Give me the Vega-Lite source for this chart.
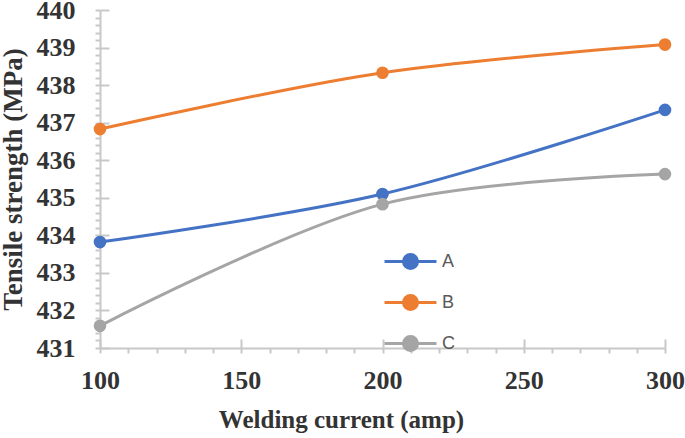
{
  "$schema": "https://vega.github.io/schema/vega-lite/v6.json",
  "width": 565,
  "height": 338,
  "autosize": {"type": "none"},
  "padding": {"left": 100, "top": 10, "right": 20, "bottom": 90},
  "background": "white",
  "config": {"view": {"stroke": null}},
  "data": {
    "values": [
      {"current": 100, "strength": 433.82, "series": "A"},
      {"current": 200, "strength": 435.1, "series": "A"},
      {"current": 300, "strength": 437.34, "series": "A"},
      {"current": 100, "strength": 436.83, "series": "B"},
      {"current": 200, "strength": 438.33, "series": "B"},
      {"current": 300, "strength": 439.08, "series": "B"},
      {"current": 100, "strength": 431.59, "series": "C"},
      {"current": 200, "strength": 434.83, "series": "C"},
      {"current": 300, "strength": 435.63, "series": "C"}
    ]
  },
  "resolve": {"axis": {"x": "independent", "y": "independent"}},
  "layer": [
    {
      "mark": {"type": "line", "interpolate": "catmull-rom", "strokeWidth": 3},
      "encoding": {
        "x": {
          "field": "current", "type": "quantitative",
          "scale": {"domain": [100, 300], "nice": false},
          "axis": {
            "title": "Welding current (amp)",
            "values": [100,110,120,130,140,150,160,170,180,190,200,210,220,230,240,250,260,270,280,290,300],
            "labelExpr": "datum.value % 50 === 0 ? datum.label : ''",
            "grid": false,
            "domainColor": "#C8C8C8", "domainWidth": 2,
            "tickColor": "#C8C8C8", "tickWidth": 2, "tickSize": 5,
            "labelFont": "Liberation Serif", "labelFontWeight": "bold", "labelFontSize": 26,
            "labelColor": "#333333", "labelPadding": 14, "labelFlush": false,
            "titleFont": "Liberation Serif", "titleFontWeight": "bold", "titleFontSize": 25,
            "titleColor": "#333333", "titlePadding": 14, "titleX": 241, "titleAnchor": "middle"
          }
        },
        "y": {
          "field": "strength", "type": "quantitative",
          "scale": {"domain": [431, 440], "nice": false, "zero": false},
          "axis": {
            "title": "Tensile strength (MPa)",
            "values": [431,431.2,431.4,431.6,431.8,432,432.2,432.4,432.6,432.8,433,433.2,433.4,433.6,433.8,434,434.2,434.4,434.6,434.8,435,435.2,435.4,435.6,435.8,436,436.2,436.4,436.6,436.8,437,437.2,437.4,437.6,437.8,438,438.2,438.4,438.6,438.8,439,439.2,439.4,439.6,439.8,440],
            "labelExpr": "abs(datum.value - round(datum.value)) < 0.01 ? format(datum.value, 'd') : ''",
            "grid": false,
            "domainColor": "#C8C8C8", "domainWidth": 2,
            "tickColor": "#C8C8C8", "tickWidth": 2, "tickSize": 5,
            "labelFont": "Liberation Serif", "labelFontWeight": "bold", "labelFontSize": 26,
            "labelColor": "#333333", "labelPadding": 20, "labelFlush": false,
            "titleFont": "Liberation Serif", "titleFontWeight": "bold", "titleFontSize": 27,
            "titleColor": "#333333", "titlePadding": 9
          }
        },
        "color": {
          "field": "series", "type": "nominal",
          "scale": {"domain": ["A", "B", "C"], "range": ["#4472C4", "#ED7D31", "#A5A5A5"]},
          "legend": {
            "title": null,
            "orient": "none",
            "legendX": 283,
            "legendY": 224,
            "symbolType": "M-1,0H1M-0.27,0a0.27,0.27 0 1,0 0.54,0a0.27,0.27 0 1,0 -0.54,0Z",
            "symbolSize": 2700,
            "symbolStrokeWidth": 3,
            "rowPadding": -19,
            "labelFont": "Liberation Sans",
            "labelFontSize": 18,
            "labelColor": "#595959",
            "labelOffset": 4,
            "encode": {"symbols": {"update": {"fill": {"scale": "color", "field": "value"}, "fillOpacity": {"value": 1}, "opacity": {"value": 1}}}}
          }
        }
      }
    },
    {
      "mark": {"type": "point", "filled": true, "size": 160, "opacity": 1},
      "encoding": {
        "x": {
          "field": "current", "type": "quantitative",
          "scale": {"domain": [100, 300], "nice": false},
          "axis": {
            "orient": "top", "offset": -338, "title": null, "labels": false, "domain": false,
            "grid": false, "values": [100, 150, 200, 250, 300],
            "tickColor": "#C8C8C8", "tickWidth": 2, "tickSize": 9
          }
        },
        "y": {
          "field": "strength", "type": "quantitative",
          "scale": {"domain": [431, 440], "nice": false, "zero": false},
          "axis": {
            "orient": "right", "offset": -565, "title": null, "labels": false, "domain": false,
            "grid": false, "values": [431,432,433,434,435,436,437,438,439,440],
            "tickColor": "#C8C8C8", "tickWidth": 2, "tickSize": 9
          }
        },
        "color": {"field": "series", "type": "nominal", "legend": null}
      }
    }
  ]
}
